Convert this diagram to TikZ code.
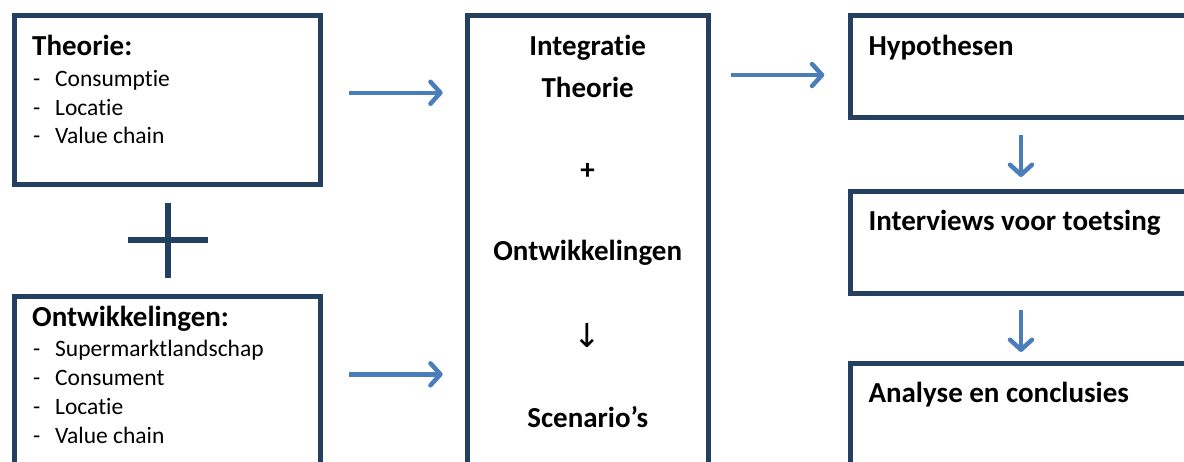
\documentclass[tikz,border=0pt]{standalone}
\usepackage{fontspec}
\setmainfont{Carlito}[Ligatures=CommonOff]
\newfontfamily\symfont{DejaVu Sans}
\usetikzlibrary{arrows.meta,calc}
\definecolor{boxc}{RGB}{36,63,96}
\definecolor{arrc}{RGB}{74,126,187}
\begin{document}
\begin{tikzpicture}[x=1pt,y=-1pt,
  box/.style={draw=boxc, line width=5pt, rectangle, inner sep=0pt, outer sep=0pt, anchor=north west},
  ttl/.style={font=\fontsize{29}{34}\selectfont\bfseries, inner sep=0pt, anchor=base west},
  ctl/.style={font=\fontsize{29}{34}\selectfont\bfseries, inner sep=0pt, anchor=base},
  itm/.style={font=\fontsize{23.5}{28}\selectfont, inner sep=0pt, anchor=base west},
  dsh/.style={font=\fontsize{23.5}{28}\selectfont, inner sep=0pt, anchor=base west},
  arr/.style={draw=arrc, line width=4.5pt, -{Straight Barb[length=10pt,width=22pt,round]}},
]
\useasboundingbox (0,0) rectangle (1184,461);
\clip (0,0) rectangle (1184,461);

% boxes
\node[box, minimum width=305.5pt, minimum height=169.5pt] (theo) at (14.5,15) {};
\node[box, minimum width=305.5pt, minimum height=200pt] (ontw) at (14.5,296) {};
\node[box, minimum width=240.5pt, minimum height=480pt] (cen) at (467.5,15) {};
\node[box, minimum width=342pt, minimum height=102.5pt] (hyp) at (850,15) {};
\node[box, minimum width=342pt, minimum height=102pt] (int) at (850,191.5) {};
\node[box, minimum width=342pt, minimum height=150pt] (ana) at (850,363) {};

% plus sign
\draw[boxc, line width=6pt] (167.7,202.7) -- (167.7,278.3);
\draw[boxc, line width=6pt] (127.7,240.3) -- (208.3,240.3);

% Theorie box text
\node[ttl] (theoT) at (32,55) {Theorie:};
\node[dsh] (td1) at (33,86) {-};
\node[itm] (ti1) at (55,86) {Consumptie};
\node[dsh] (td2) at (33,115) {-};
\node[itm] (ti2) at (55,115) {Locatie};
\node[dsh] (td3) at (33,143.5) {-};
\node[itm] (ti3) at (55,143.5) {Value chain};

% Ontwikkelingen box text
\node[ttl] (ontwT) at (32,326.7) {Ontwikkelingen:};
\node[dsh] (od1) at (33,356) {-};
\node[itm] (oi1) at (55,356) {Supermarktlandschap};
\node[dsh] (od2) at (33,385.5) {-};
\node[itm] (oi2) at (55,385.5) {Consument};
\node[dsh] (od3) at (33,414.5) {-};
\node[itm] (oi3) at (55,414.5) {Locatie};
\node[dsh] (od4) at (33,443.5) {-};
\node[itm] (oi4) at (55,443.5) {Value chain};

% center text
\node[ctl] (c1) at (587.7,55) {Integratie};
\node[ctl] (c2) at (587.7,97) {Theorie};
\node[font=\fontsize{29}{34}\selectfont\bfseries, inner sep=0pt] (c3) at (587.7,171.7) {+};
\node[ctl] (c4) at (587.7,260) {Ontwikkelingen};
\node[font=\fontsize{33}{38}\selectfont\symfont, inner sep=0pt] (c5) at (587.7,336) {↓};
\node[ctl] (c6) at (587.7,427) {Scenario’s};

% right text
\node[ttl] (hypT) at (868.3,55) {Hypothesen};
\node[ttl] (intT) at (868.3,230) {Interviews voor toetsing};
\node[ttl] (anaT) at (868.3,402) {Analyse en conclusies};

% arrows
\draw[arr, shorten <=29pt, shorten >=24.8pt] ([yshift=7pt]theo.east) -- ([yshift=7pt]theo.east -| cen.west);
\draw[arr, shorten <=29pt, shorten >=24.8pt] ([yshift=-78.3pt]ontw.north east) -- ([yshift=-78.3pt]ontw.north east -| cen.west);
\draw[arr, shorten <=23pt, shorten >=25.7pt] ([yshift=-8.75pt]hyp.west -| cen.east) -- ([yshift=-8.75pt]hyp.west);
\draw[arr, shorten <=17.5pt, shorten >=14.5pt] (hyp.south) -- (int.north);
\draw[arr, shorten <=16.5pt, shorten >=11pt] (int.south) -- (ana.north);
\end{tikzpicture}
\end{document}
